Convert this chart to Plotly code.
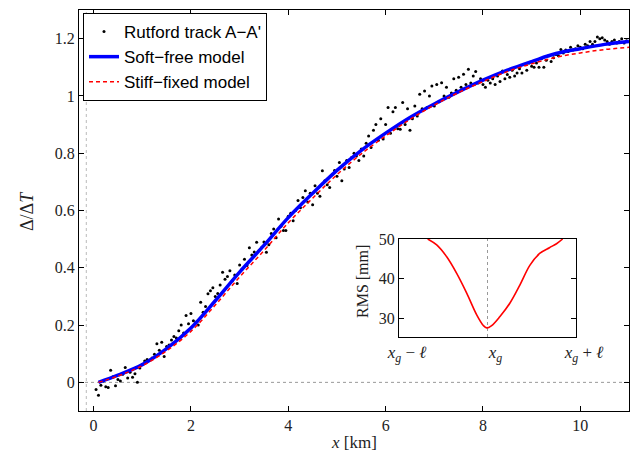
import numpy as np
import plotly.graph_objects as go

# ---------------- data ----------------
# Rutford track A-A' observations (x sampled every 0.05 km)
track_x = np.round(np.arange(0.05, 10.96, 0.05), 2)
track_y = [
    -0.025, -0.045, -0.01, 0.005, -0.015, -0.018, 0.042, 0.02, -0.012, 0.01,
    0.005, 0.028, 0.052, 0.015, 0.035, 0.018, 0.03, 0.0, 0.05, 0.062,
    0.075, 0.08, 0.078, 0.085, 0.098, 0.135, 0.112, 0.14, 0.09, 0.125,
    0.13, 0.148, 0.16, 0.155, 0.18, 0.2, 0.172, 0.233, 0.205, 0.24,
    0.215, 0.21, 0.2, 0.28, 0.245, 0.265, 0.309, 0.32, 0.33, 0.3,
    0.31, 0.34, 0.384, 0.36, 0.37, 0.39, 0.355, 0.375, 0.345, 0.41,
    0.395, 0.43, 0.408, 0.47, 0.445, 0.455, 0.489, 0.46, 0.47, 0.49,
    0.454, 0.48, 0.52, 0.535, 0.505, 0.57, 0.545, 0.53, 0.53, 0.58,
    0.59, 0.564, 0.6, 0.635, 0.61, 0.645, 0.669, 0.63, 0.66, 0.62,
    0.686, 0.66, 0.65, 0.739, 0.704, 0.69, 0.68, 0.725, 0.74, 0.72,
    0.768, 0.704, 0.745, 0.775, 0.75, 0.785, 0.8, 0.79, 0.775, 0.815,
    0.79, 0.835, 0.86, 0.82, 0.88, 0.9, 0.845, 0.92, 0.85, 0.9,
    0.96, 0.87, 0.945, 0.96, 0.885, 0.884, 0.977, 0.9, 0.955, 0.88,
    0.92, 0.965, 0.93, 1.006, 0.955, 1.017, 0.96, 1.0, 1.035, 0.965,
    1.04, 0.98, 1.046, 1.0, 1.03, 0.995, 1.01, 1.06, 1.02, 1.065,
    1.03, 1.076, 1.04, 1.093, 1.045, 1.07, 1.085, 1.045, 1.06, 1.04,
    1.03, 1.055, 1.045, 1.06, 1.04, 1.07, 1.05, 1.087, 1.06, 1.075,
    1.065, 1.09, 1.07, 1.08, 1.095, 1.08, 1.11, 1.09, 1.115, 1.104,
    1.1, 1.115, 1.1, 1.13, 1.1, 1.125, 1.14, 1.12, 1.133, 1.145,
    1.14, 1.162, 1.15, 1.16, 1.155, 1.17, 1.16, 1.165, 1.175, 1.17,
    1.165, 1.18, 1.175, 1.19, 1.18, 1.19, 1.206, 1.2, 1.203, 1.195,
    1.19, 1.18, 1.19, 1.195, 1.185, 1.19, 1.2, 1.185, 1.193,
]

model_x = [0.1, 0.5, 1, 1.5, 2, 2.5, 3, 3.5, 4, 4.5, 5, 5.5, 6, 6.5, 7,
           7.5, 8, 8.5, 9, 9.5, 10, 10.5, 11]
soft_free = [0.0, 0.025, 0.062, 0.118, 0.19, 0.285, 0.385, 0.478, 0.575,
             0.66, 0.74, 0.81, 0.87, 0.925, 0.972, 1.015, 1.055, 1.09, 1.12,
             1.148, 1.165, 1.18, 1.19]
stiff_fixed = [0.0, 0.022, 0.058, 0.11, 0.178, 0.27, 0.368, 0.46, 0.557,
               0.643, 0.725, 0.798, 0.86, 0.918, 0.968, 1.012, 1.05, 1.085,
               1.112, 1.135, 1.15, 1.162, 1.17]

# inset: RMS misfit vs grounding-line position
rms_x = [-0.676, -0.574, -0.461, -0.348, -0.235, -0.122, -0.047, -0.009,
         0.047, 0.141, 0.254, 0.367, 0.48, 0.593, 0.7, 0.78, 0.849]
rms_y = [50, 48.5, 45.5, 41.3, 36.3, 30.8, 28.1, 27.5, 28.1, 30.4, 33.8,
         38.4, 43.4, 46.4, 47.8, 48.8, 50]

x_ticks = [0, 2, 4, 6, 8, 10]
y_ticks = [0, 0.2, 0.4, 0.6, 0.8, 1, 1.2]
inset_yticks = [30, 40, 50]
inset_xticks = [-1, 0, 1]
inset_xlabels = ["<i>x<sub>g</sub></i> − <i>ℓ</i>", "<i>x<sub>g</sub></i>",
                 "<i>x<sub>g</sub></i> + <i>ℓ</i>"]
X_REF_LINE = -0.15

SERIF = "Liberation Serif, DejaVu Serif, serif"
SANS = "Liberation Sans, Arial, sans-serif"

fig = go.Figure()

# reference dotted lines
fig.add_trace(go.Scatter(x=[-0.3, 11], y=[0, 0], mode="lines",
                         line=dict(color="#999999", width=1, dash="dot"),
                         showlegend=False, hoverinfo="skip"))
fig.add_trace(go.Scatter(x=[X_REF_LINE, X_REF_LINE], y=[-0.1, 1.3], mode="lines",
                         line=dict(color="#bbbbbb", width=1, dash="dot"),
                         showlegend=False, hoverinfo="skip"))

fig.add_trace(go.Scatter(x=track_x, y=track_y, mode="markers",
                         marker=dict(color="black", size=3),
                         name="Rutford track A−A'"))
fig.add_trace(go.Scatter(x=model_x, y=soft_free, mode="lines",
                         line=dict(color="#0000ff", width=3.5, shape="spline"),
                         name="Soft−free model"))
fig.add_trace(go.Scatter(x=model_x, y=stiff_fixed, mode="lines",
                         line=dict(color="#ff0000", width=1.5, dash="4px,3px",
                                   shape="spline"),
                         name="Stiff−fixed model"))

# inset
fig.add_trace(go.Scatter(x=[0, 0], y=[25.2, 50], mode="lines",
                         line=dict(color="#999999", width=1, dash="dot"),
                         xaxis="x2", yaxis="y2", showlegend=False,
                         hoverinfo="skip"))
fig.add_trace(go.Scatter(x=rms_x, y=rms_y, mode="lines",
                         line=dict(color="#ff0000", width=1.6, shape="spline"),
                         xaxis="x2", yaxis="y2", showlegend=False))

axis_common = dict(showgrid=False, zeroline=False, showline=True,
                   linecolor="black", linewidth=1, mirror="ticks",
                   ticks="inside", ticklen=5, tickcolor="black",
                   automargin=False,
                   tickfont=dict(family=SERIF, size=16, color="#222222"))

fig.update_layout(
    width=639, height=464,
    margin=dict(l=0, r=0, t=0, b=0, autoexpand=False),
    paper_bgcolor="white", plot_bgcolor="white",
    xaxis=dict(domain=[79 / 639, 629 / 639], range=[-0.3, 11],
               tickvals=x_ticks, **axis_common),
    yaxis=dict(domain=[53 / 464, 454 / 464], range=[-0.1, 1.3],
               tickvals=y_ticks, **axis_common),
    xaxis2=dict(domain=[399 / 639, 576 / 639], range=[-1, 1],
                anchor="y2", tickvals=inset_xticks, ticktext=inset_xlabels,
                ticklabelshift=8,
                **{**axis_common, "ticklen": 0,
                   "tickfont": dict(family=SERIF, size=17, color="#222222")}),
    yaxis2=dict(domain=[127 / 464, 225 / 464], range=[25.2, 50],
                anchor="x2", tickvals=inset_yticks, **axis_common),
    showlegend=True,
    legend=dict(x=83 / 639, y=1 - 13 / 464, xanchor="left", yanchor="top",
                bgcolor="white", bordercolor="black", borderwidth=1,
                font=dict(family=SANS, size=17, color="black"),
                tracegroupgap=0, itemwidth=30),
)

fig.add_annotation(text="Δ/Δ<i>T</i>", x=27 / 639, y=1 - 211 / 464,
                   xref="paper", yref="paper", textangle=-90, showarrow=False,
                   xanchor="center", yanchor="middle",
                   font=dict(family=SERIF, size=18, color="#222222"))
fig.add_annotation(text="<i>x</i> [km]", x=354 / 639, y=1 - 442 / 464,
                   xref="paper", yref="paper", showarrow=False,
                   xanchor="center", yanchor="middle",
                   font=dict(family=SERIF, size=17, color="#222222"))
fig.add_annotation(text="RMS [mm]", x=362 / 639, y=1 - 282 / 464,
                   xref="paper", yref="paper", textangle=-90, showarrow=False,
                   xanchor="center", yanchor="middle",
                   font=dict(family=SERIF, size=16, color="#222222"))

fig.write_html("out.html", config={"displayModeBar": False},
               post_script="document.body.style.margin='0';"
                           "document.body.style.padding='0';")
